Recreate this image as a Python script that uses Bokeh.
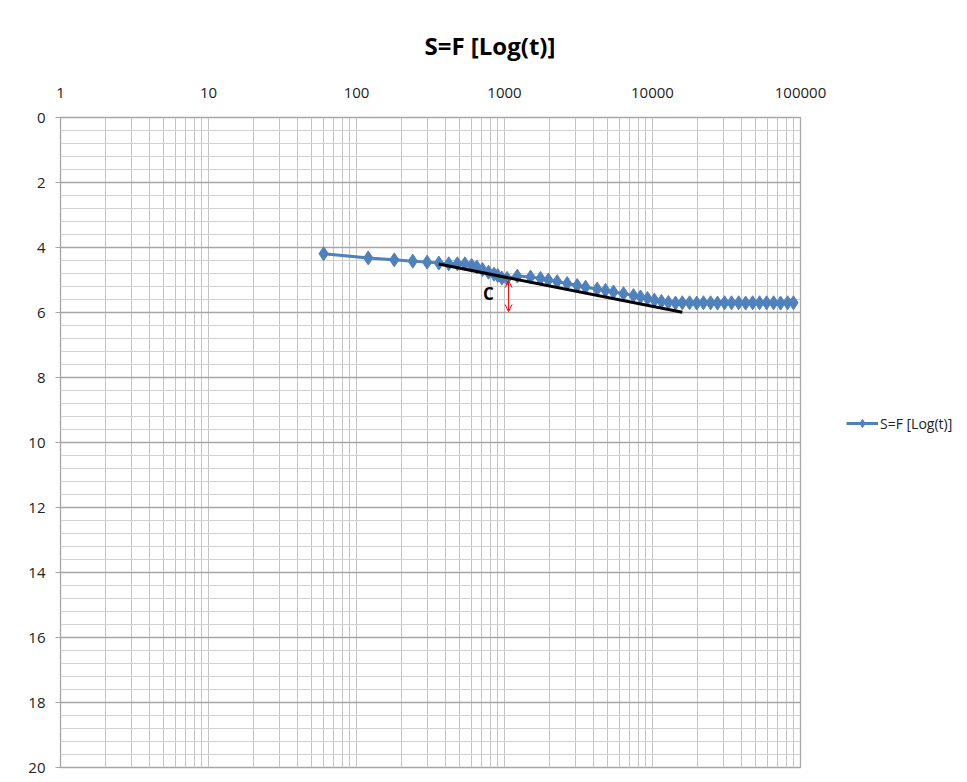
from bokeh.plotting import figure
from bokeh.models import (Range1d, FixedTicker, Legend, LegendItem, Arrow, OpenHead,
                          NumeralTickFormatter, ColumnDataSource)
from bokeh.core.properties import value
from bokeh.embed import file_html
from bokeh.resources import INLINE

# ---------------- data ----------------
chart_title = "S=F [Log(t)]"
series_name = "S=F [Log(t)]"

time_s = [60, 120, 180, 240, 300, 360, 420, 480, 540, 600,
          650, 710, 780, 850, 900, 960, 1040, 1220, 1500, 1750,
          1980, 2270, 2650, 3100, 3530, 4230, 4810, 5450, 6370, 7440,
          8300, 9250, 10300, 11500, 12800, 14300, 15900, 17800, 19900, 22100,
          24700, 27500, 30700, 34200, 38200, 42600, 47500, 52900, 59000, 65800,
          73400, 81800, 89600]
settlement = [4.19, 4.32, 4.38, 4.42, 4.45, 4.48, 4.50, 4.50, 4.50, 4.55,
              4.60, 4.68, 4.76, 4.82, 4.86, 4.94, 4.95, 4.88, 4.91, 4.95,
              5.00, 5.05, 5.11, 5.17, 5.22, 5.28, 5.32, 5.37, 5.42, 5.48,
              5.52, 5.57, 5.62, 5.66, 5.69, 5.71, 5.70, 5.70, 5.71, 5.70,
              5.70, 5.71, 5.70, 5.70, 5.70, 5.71, 5.70, 5.70, 5.70, 5.70,
              5.71, 5.70, 5.70]

trend_t = [360, 15900]
trend_s = [4.51, 5.99]

arrow_t = 1065
arrow_s = [5.02, 5.97]

c_label_t = [780]
c_label_s = [5.42]
c_label_text = ["C"]

x_ticks = [1, 10, 100, 1000, 10000, 100000]
x_minor = [m * 10 ** d for d in range(5) for m in range(2, 10)]
y_ticks = list(range(0, 21, 2))
y_minor = [round(v * 0.4, 1) for v in range(0, 51) if (v * 0.4) % 2 > 0.01 and (v * 0.4) % 2 < 1.99]

FONT = "Open Sans"
BLUE = "#4F81BD"

p = figure(x_axis_type="log", x_range=Range1d(1, 100000), y_range=Range1d(20, 0),
           frame_width=740, frame_height=650, x_axis_location="above",
           output_backend="svg", toolbar_location=None,
           min_border_left=60, min_border_right=159, min_border_top=117, min_border_bottom=15)

p.background_fill_color = "white"
p.border_fill_color = "white"
p.outline_line_color = "#a6a6a6"
p.outline_line_width = 1.3

# title
p.title.text = chart_title
p.title.text_font = FONT
p.title.text_font_size = "24px"
p.title.text_font_style = "bold"
p.title.text_color = "#000000"
p.title.align = "left"
p.title.offset = 364
p.title.standoff = 45

# x axis (top)
xt = FixedTicker(ticks=x_ticks, minor_ticks=x_minor)
xa = p.xaxis[0]
xa.ticker = xt
xa.formatter = NumeralTickFormatter(format="0")
xa.axis_line_color = None
xa.major_tick_line_color = None
xa.minor_tick_line_color = None
xa.major_label_standoff = 14
xa.major_label_text_font = FONT
xa.major_label_text_font_size = "15px"
xa.major_label_text_color = "#222222"
p.xgrid[0].ticker = xt
p.xgrid.grid_line_color = "#c4c4c4"
p.xgrid.minor_grid_line_color = "#c4c4c4"

# y axis (left)
yt = FixedTicker(ticks=y_ticks, minor_ticks=y_minor)
ya = p.yaxis[0]
ya.ticker = yt
ya.axis_line_color = None
ya.major_tick_line_color = "#a6a6a6"
ya.major_tick_out = 5
ya.major_tick_in = 0
ya.minor_tick_line_color = None
ya.major_label_standoff = 10
ya.major_label_text_font = FONT
ya.major_label_text_font_size = "15px"
ya.major_label_text_color = "#222222"
p.ygrid[0].ticker = yt
p.ygrid.grid_line_color = "#a6a6a6"
p.ygrid.grid_line_width = 1.3
p.ygrid.minor_grid_line_color = "#d0d0d0"

# data series
src = ColumnDataSource(dict(t=time_s, s=settlement))
line_r = p.line("t", "s", source=src, line_color=BLUE, line_width=3)
pts_r = p.scatter("t", "s", source=src, marker="diamond", size=14,
                  fill_color=BLUE, line_color=BLUE)

# tangent line
p.line(trend_t, trend_s, line_color="black", line_width=3)

# red double arrow
p.add_layout(Arrow(x_start=arrow_t, y_start=arrow_s[0], x_end=arrow_t, y_end=arrow_s[1],
                   line_color="red", line_width=1,
                   start=OpenHead(size=7, line_color="red", line_width=1),
                   end=OpenHead(size=7, line_color="red", line_width=1)))

# C label
p.text(x=c_label_t, y=c_label_s, text=c_label_text, text_font=value(FONT),
       text_font_style="bold", text_font_size="17px", text_align="center",
       text_baseline="middle", text_color="black")

legend = Legend(items=[LegendItem(label=series_name, renderers=[line_r, pts_r])],
                location=(46, 334), margin=0, padding=10, glyph_width=32,
                label_standoff=2, border_line_color=None, background_fill_alpha=0,
                label_text_font=FONT, label_text_font_size="14px",
                label_text_color="#222222")
p.add_layout(legend, "right")

open("out.html", "w").write(file_html(p, INLINE))
